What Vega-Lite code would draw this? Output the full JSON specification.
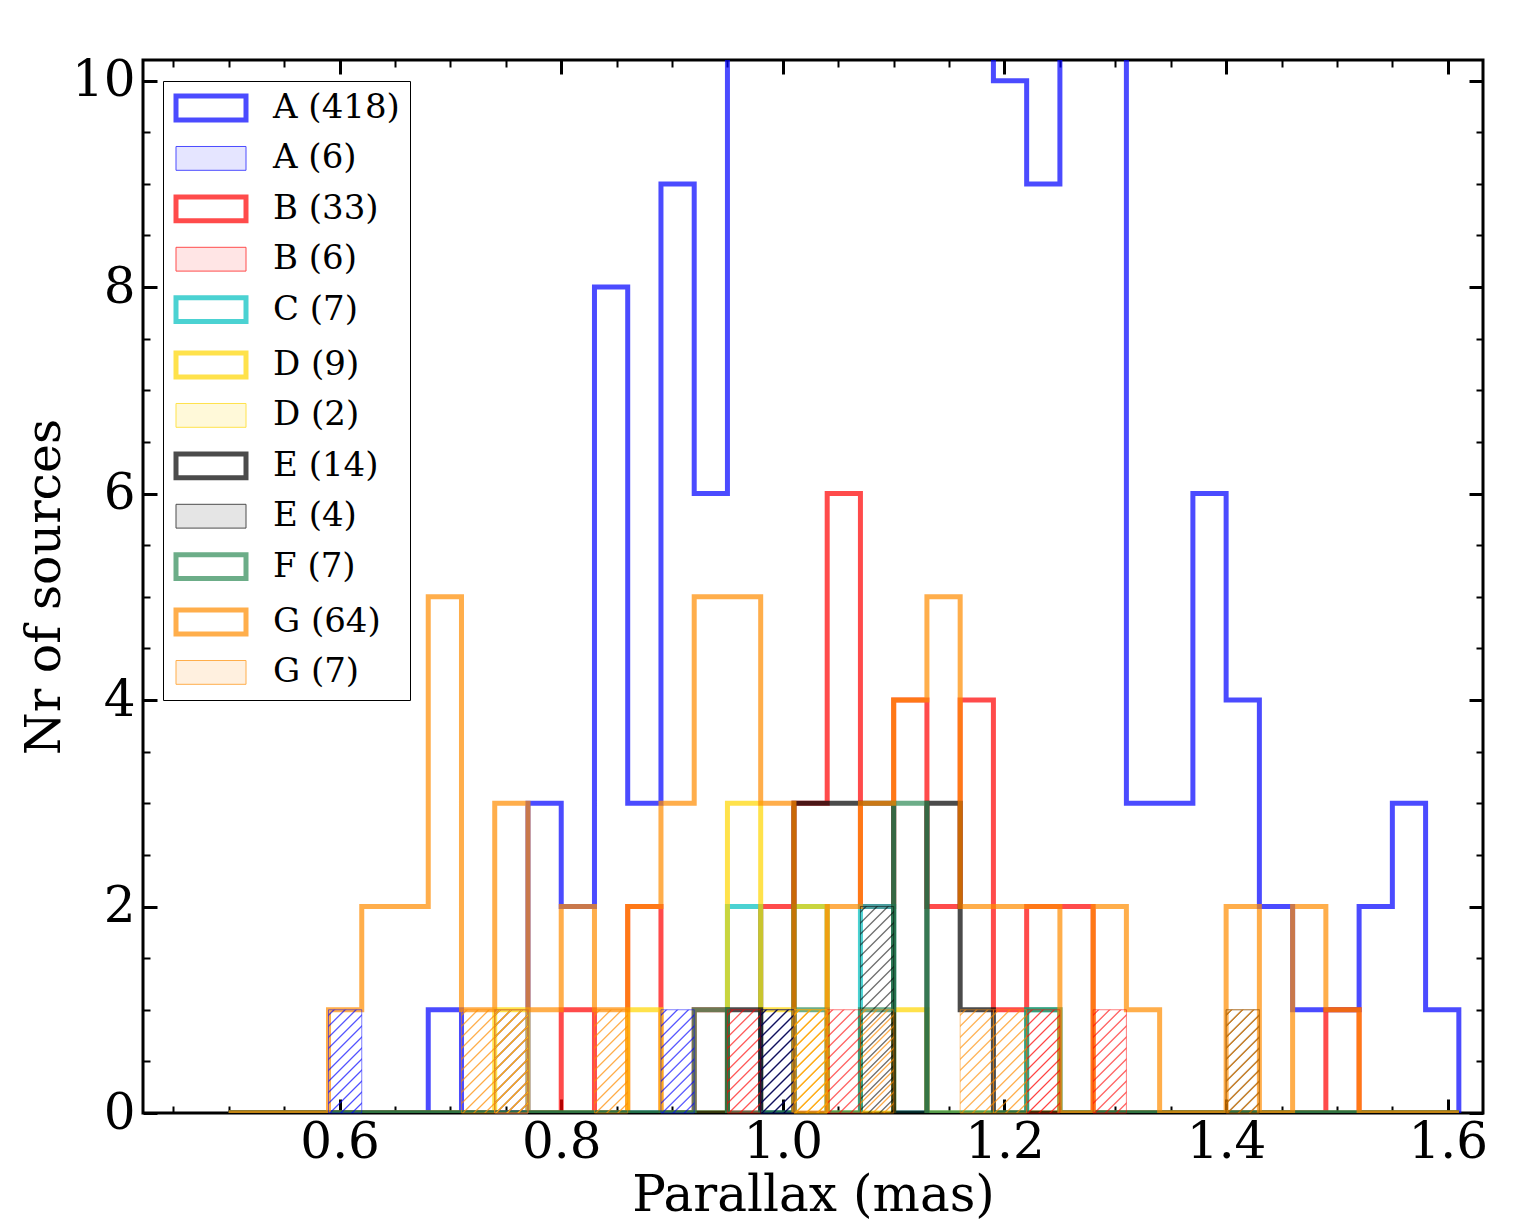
{
  "$schema": "https://vega.github.io/schema/vega-lite/v6.json",
  "width": 1340,
  "height": 1053,
  "autosize": {"type": "none"},
  "padding": {"left": 143, "top": 60, "right": 30, "bottom": 118},
  "background": "white",
  "config": {
    "view": {"stroke": "black", "strokeWidth": 3},
    "font": "DejaVu Serif",
    "axis": {"domain": false, "grid": false, "tickColor": "black", "labelColor": "black", "titleColor": "black", "labelFont": "DejaVu Serif", "titleFont": "DejaVu Serif", "titleFontWeight": "normal", "labelOverlap": false, "labelFlush": false, "labelBound": false}
  },
  "datasets": {
    "hist": [
      {"x":0.50,"A (418)":0,"B (33)":0,"C (7)":0,"D (9)":0,"E (14)":0,"F (7)":0,"G (64)":0},
      {"x":0.53,"A (418)":0,"B (33)":0,"C (7)":0,"D (9)":0,"E (14)":0,"F (7)":0,"G (64)":0},
      {"x":0.56,"A (418)":0,"B (33)":0,"C (7)":0,"D (9)":0,"E (14)":0,"F (7)":0,"G (64)":0},
      {"x":0.59,"A (418)":0,"B (33)":0,"C (7)":0,"D (9)":0,"E (14)":0,"F (7)":0,"G (64)":1},
      {"x":0.62,"A (418)":0,"B (33)":0,"C (7)":0,"D (9)":0,"E (14)":0,"F (7)":0,"G (64)":2},
      {"x":0.65,"A (418)":0,"B (33)":0,"C (7)":0,"D (9)":0,"E (14)":0,"F (7)":0,"G (64)":2},
      {"x":0.68,"A (418)":1,"B (33)":0,"C (7)":0,"D (9)":0,"E (14)":0,"F (7)":0,"G (64)":5},
      {"x":0.71,"A (418)":0,"B (33)":0,"C (7)":0,"D (9)":0,"E (14)":0,"F (7)":0,"G (64)":1},
      {"x":0.74,"A (418)":0,"B (33)":0,"C (7)":0,"D (9)":1,"E (14)":0,"F (7)":0,"G (64)":3},
      {"x":0.77,"A (418)":3,"B (33)":0,"C (7)":0,"D (9)":0,"E (14)":0,"F (7)":0,"G (64)":1},
      {"x":0.80,"A (418)":2,"B (33)":1,"C (7)":0,"D (9)":0,"E (14)":0,"F (7)":0,"G (64)":2},
      {"x":0.83,"A (418)":8,"B (33)":0,"C (7)":0,"D (9)":0,"E (14)":0,"F (7)":0,"G (64)":1},
      {"x":0.86,"A (418)":3,"B (33)":2,"C (7)":0,"D (9)":1,"E (14)":0,"F (7)":0,"G (64)":2},
      {"x":0.89,"A (418)":9,"B (33)":0,"C (7)":0,"D (9)":0,"E (14)":0,"F (7)":0,"G (64)":3},
      {"x":0.92,"A (418)":6,"B (33)":1,"C (7)":0,"D (9)":0,"E (14)":0,"F (7)":1,"G (64)":5},
      {"x":0.95,"A (418)":15,"B (33)":0,"C (7)":2,"D (9)":3,"E (14)":1,"F (7)":0,"G (64)":5},
      {"x":0.98,"A (418)":25,"B (33)":2,"C (7)":0,"D (9)":1,"E (14)":0,"F (7)":0,"G (64)":3},
      {"x":1.01,"A (418)":38,"B (33)":3,"C (7)":2,"D (9)":2,"E (14)":3,"F (7)":1,"G (64)":0},
      {"x":1.04,"A (418)":50,"B (33)":6,"C (7)":0,"D (9)":0,"E (14)":3,"F (7)":0,"G (64)":2},
      {"x":1.07,"A (418)":58,"B (33)":2,"C (7)":2,"D (9)":0,"E (14)":3,"F (7)":1,"G (64)":3},
      {"x":1.10,"A (418)":55,"B (33)":4,"C (7)":0,"D (9)":1,"E (14)":0,"F (7)":3,"G (64)":4},
      {"x":1.13,"A (418)":45,"B (33)":2,"C (7)":0,"D (9)":0,"E (14)":3,"F (7)":0,"G (64)":5},
      {"x":1.16,"A (418)":29,"B (33)":4,"C (7)":0,"D (9)":0,"E (14)":1,"F (7)":0,"G (64)":2},
      {"x":1.19,"A (418)":10,"B (33)":1,"C (7)":0,"D (9)":0,"E (14)":0,"F (7)":0,"G (64)":2},
      {"x":1.22,"A (418)":9,"B (33)":2,"C (7)":1,"D (9)":0,"E (14)":0,"F (7)":1,"G (64)":2},
      {"x":1.25,"A (418)":14,"B (33)":2,"C (7)":0,"D (9)":0,"E (14)":0,"F (7)":0,"G (64)":0},
      {"x":1.28,"A (418)":12,"B (33)":0,"C (7)":0,"D (9)":0,"E (14)":0,"F (7)":0,"G (64)":2},
      {"x":1.31,"A (418)":3,"B (33)":0,"C (7)":0,"D (9)":0,"E (14)":0,"F (7)":0,"G (64)":1},
      {"x":1.34,"A (418)":3,"B (33)":0,"C (7)":0,"D (9)":0,"E (14)":0,"F (7)":0,"G (64)":0},
      {"x":1.37,"A (418)":6,"B (33)":0,"C (7)":0,"D (9)":0,"E (14)":0,"F (7)":0,"G (64)":0},
      {"x":1.40,"A (418)":4,"B (33)":0,"C (7)":0,"D (9)":0,"E (14)":0,"F (7)":0,"G (64)":2},
      {"x":1.43,"A (418)":2,"B (33)":0,"C (7)":0,"D (9)":0,"E (14)":0,"F (7)":0,"G (64)":0},
      {"x":1.46,"A (418)":1,"B (33)":0,"C (7)":0,"D (9)":0,"E (14)":0,"F (7)":0,"G (64)":2},
      {"x":1.49,"A (418)":1,"B (33)":1,"C (7)":0,"D (9)":0,"E (14)":0,"F (7)":0,"G (64)":1},
      {"x":1.52,"A (418)":2,"B (33)":0,"C (7)":0,"D (9)":0,"E (14)":0,"F (7)":0,"G (64)":0},
      {"x":1.55,"A (418)":3,"B (33)":0,"C (7)":0,"D (9)":0,"E (14)":0,"F (7)":0,"G (64)":0},
      {"x":1.58,"A (418)":1,"B (33)":0,"C (7)":0,"D (9)":0,"E (14)":0,"F (7)":0,"G (64)":0},
      {"x":1.61,"A (418)":0,"B (33)":0,"C (7)":0,"D (9)":0,"E (14)":0,"F (7)":0,"G (64)":0}
    ],
    "hatch": [
      {"g":"A (6)","x":0.59,"x2":0.62,"n":1},
      {"g":"A (6)","x":0.74,"x2":0.77,"n":1},
      {"g":"A (6)","x":0.89,"x2":0.92,"n":1},
      {"g":"A (6)","x":0.98,"x2":1.01,"n":1},
      {"g":"B (6)","x":0.74,"x2":0.77,"n":1},
      {"g":"B (6)","x":0.95,"x2":0.98,"n":1},
      {"g":"B (6)","x":1.04,"x2":1.07,"n":1},
      {"g":"B (6)","x":1.22,"x2":1.25,"n":1},
      {"g":"B (6)","x":1.28,"x2":1.31,"n":1},
      {"g":"D (2)","x":0.74,"x2":0.77,"n":1},
      {"g":"D (2)","x":1.01,"x2":1.04,"n":1},
      {"g":"E (4)","x":0.98,"x2":1.01,"n":1},
      {"g":"E (4)","x":1.07,"x2":1.10,"n":2},
      {"g":"E (4)","x":1.40,"x2":1.43,"n":1},
      {"g":"G (7)","x":0.71,"x2":0.74,"n":1},
      {"g":"G (7)","x":0.83,"x2":0.86,"n":1},
      {"g":"G (7)","x":1.01,"x2":1.04,"n":1},
      {"g":"G (7)","x":1.07,"x2":1.10,"n":1},
      {"g":"G (7)","x":1.16,"x2":1.19,"n":1},
      {"g":"G (7)","x":1.19,"x2":1.22,"n":1},
      {"g":"G (7)","x":1.40,"x2":1.43,"n":1}
    ]
  },
  "layer": [
    {
      "data": {"name": "hist"},
      "transform": [{"fold": ["A (418)","B (33)","C (7)","D (9)","E (14)","F (7)","G (64)"], "as": ["g","n"]}],
      "mark": {"type": "line", "interpolate": "step-after", "opacity": 0.7, "clip": true, "strokeJoin": "miter", "strokeCap": "butt"},
      "encoding": {
        "x": {"field": "x", "type": "quantitative", "scale": {"domain": [0.4226, 1.6318], "nice": false, "zero": false},
          "axis": {"orient": "bottom", "values": [0.45,0.5,0.55,0.6,0.65,0.7,0.75,0.8,0.85,0.9,0.95,1.0,1.05,1.1,1.15,1.2,1.25,1.3,1.35,1.4,1.45,1.5,1.55,1.6],
            "title": "Parallax (mas)", "titleFontSize": 50, "titlePadding": -4,
            "labelFontSize": 50, "labelPadding": 18, "labelAngle": 0,
            "labelExpr": "abs(datum.value*5 - round(datum.value*5)) < 0.01 ? format(datum.value, '.1f') : ''",
            "tickSize": {"condition": {"test": "abs(datum.value*5 - round(datum.value*5)) < 0.01", "value": -14}, "value": -7},
            "tickWidth": {"condition": {"test": "abs(datum.value*5 - round(datum.value*5)) < 0.01", "value": 3}, "value": 2}}},
        "y": {"field": "n", "type": "quantitative", "scale": {"domain": [0, 10.2], "nice": false, "zero": true},
          "axis": {"orient": "left", "values": [0,0.5,1,1.5,2,2.5,3,3.5,4,4.5,5,5.5,6,6.5,7,7.5,8,8.5,9,9.5,10],
            "title": "Nr of sources", "titleFontSize": 49, "titlePadding": 2,
            "labelFontSize": 50, "labelPadding": 22,
            "labelExpr": "datum.value % 2 === 0 ? format(datum.value, 'd') : ''",
            "tickSize": {"condition": {"test": "datum.value % 2 === 0", "value": -14}, "value": -7},
            "tickWidth": {"condition": {"test": "datum.value % 2 === 0", "value": 3}, "value": 2}}},
        "strokeWidth": {"field": "g", "type": "ordinal",
          "scale": {"type": "ordinal", "domain": ["A (418)","A (6)","B (33)","B (6)","C (7)","D (9)","D (2)","E (14)","E (4)","F (7)","G (64)","G (7)"],
                    "range": [5,1,5,1,5,5,1,5,1,5,5,1]}},
        "fill": {"field": "g", "type": "nominal",
          "scale": {"domain": ["A (418)","A (6)","B (33)","B (6)","C (7)","D (9)","D (2)","E (14)","E (4)","F (7)","G (64)","G (7)"],
                    "range": ["transparent","rgba(0,0,255,0.2)","transparent","rgba(255,0,0,0.2)","transparent","transparent","rgba(255,215,0,0.3)","transparent","rgba(0,0,0,0.2)","transparent","transparent","rgba(255,140,0,0.25)"]}},
        "color": {"field": "g", "type": "nominal",
          "scale": {"domain": ["A (418)","A (6)","B (33)","B (6)","C (7)","D (9)","D (2)","E (14)","E (4)","F (7)","G (64)","G (7)"],
                    "range": ["#0000ff","#0000ff","#ff0000","#ff0000","#00bfbf","#ffd700","#ffd700","#000000","#000000","#2e8b57","#ff8c00","#ff8c00"]},
          "legend": {"orient": "none", "legendX": 20, "legendY": 21, "title": null,
            "symbolType": "M-1,-0.85H4V0.85H-1Z", "symbolSize": 784,
            "labelFont": "DejaVu Serif", "labelFontSize": 34, "labelColor": "black", "labelOffset": 66, "labelLimit": 400,
            "rowPadding": 11.4, "padding": 10, "strokeColor": "black", "fillColor": "white", "cornerRadius": 0}
        }
      }
    },
    {
      "data": {"name": "hatch"},
      "transform": [{"filter": "datum.g === 'A (6)'"}],
      "mark": {"type": "rect", "stroke": "#0000ff", "strokeWidth": 1, "strokeOpacity": 0.5,
        "fill": {"gradient":"linear","x1":0,"y1":0,"x2":0.3853,"y2":1.1978,"stops":[
          {"offset":0.028,"color":"rgba(0,0,255,0)"},{"offset":0.04,"color":"rgba(0,0,255,0.75)"},{"offset":0.052,"color":"rgba(0,0,255,0)"},
          {"offset":0.1087,"color":"rgba(0,0,255,0)"},{"offset":0.1207,"color":"rgba(0,0,255,0.75)"},{"offset":0.1327,"color":"rgba(0,0,255,0)"},
          {"offset":0.1894,"color":"rgba(0,0,255,0)"},{"offset":0.2014,"color":"rgba(0,0,255,0.75)"},{"offset":0.2134,"color":"rgba(0,0,255,0)"},
          {"offset":0.2701,"color":"rgba(0,0,255,0)"},{"offset":0.2821,"color":"rgba(0,0,255,0.75)"},{"offset":0.2941,"color":"rgba(0,0,255,0)"},
          {"offset":0.3508,"color":"rgba(0,0,255,0)"},{"offset":0.3628,"color":"rgba(0,0,255,0.75)"},{"offset":0.3748,"color":"rgba(0,0,255,0)"},
          {"offset":0.4315,"color":"rgba(0,0,255,0)"},{"offset":0.4435,"color":"rgba(0,0,255,0.75)"},{"offset":0.4555,"color":"rgba(0,0,255,0)"},
          {"offset":0.5122,"color":"rgba(0,0,255,0)"},{"offset":0.5242,"color":"rgba(0,0,255,0.75)"},{"offset":0.5362,"color":"rgba(0,0,255,0)"},
          {"offset":0.5929,"color":"rgba(0,0,255,0)"},{"offset":0.6049,"color":"rgba(0,0,255,0.75)"},{"offset":0.6169,"color":"rgba(0,0,255,0)"},
          {"offset":0.6736,"color":"rgba(0,0,255,0)"},{"offset":0.6856,"color":"rgba(0,0,255,0.75)"},{"offset":0.6976,"color":"rgba(0,0,255,0)"},
          {"offset":0.7543,"color":"rgba(0,0,255,0)"},{"offset":0.7663,"color":"rgba(0,0,255,0.75)"},{"offset":0.7783,"color":"rgba(0,0,255,0)"},
          {"offset":0.835,"color":"rgba(0,0,255,0)"},{"offset":0.847,"color":"rgba(0,0,255,0.75)"},{"offset":0.859,"color":"rgba(0,0,255,0)"},
          {"offset":0.9157,"color":"rgba(0,0,255,0)"},{"offset":0.9277,"color":"rgba(0,0,255,0.75)"},{"offset":0.9397,"color":"rgba(0,0,255,0)"}]}},
      "encoding": {
        "x": {"field": "x", "type": "quantitative",
          "axis": {"orient": "top", "values": [0.45,0.5,0.55,0.6,0.65,0.7,0.75,0.8,0.85,0.9,0.95,1.0,1.05,1.1,1.15,1.2,1.25,1.3,1.35,1.4,1.45,1.5,1.55,1.6],
            "title": null, "labels": false,
            "tickSize": {"condition": {"test": "abs(datum.value*5 - round(datum.value*5)) < 0.01", "value": -14}, "value": -7},
            "tickWidth": {"condition": {"test": "abs(datum.value*5 - round(datum.value*5)) < 0.01", "value": 3}, "value": 2}}},
        "x2": {"field": "x2"},
        "y": {"field": "n", "type": "quantitative",
          "axis": {"orient": "right", "values": [0,0.5,1,1.5,2,2.5,3,3.5,4,4.5,5,5.5,6,6.5,7,7.5,8,8.5,9,9.5,10],
            "title": null, "labels": false,
            "tickSize": {"condition": {"test": "datum.value % 2 === 0", "value": -14}, "value": -7},
            "tickWidth": {"condition": {"test": "datum.value % 2 === 0", "value": 3}, "value": 2}}},
        "y2": {"datum": 0}
      }
    },
    {
      "data": {"name": "hatch"},
      "transform": [{"filter": "datum.g === 'B (6)'"}],
      "mark": {"type": "rect", "stroke": "#ff0000", "strokeWidth": 1, "strokeOpacity": 0.5,
        "fill": {"gradient":"linear","x1":0,"y1":0,"x2":0.3853,"y2":1.1978,"stops":[
          {"offset":0.028,"color":"rgba(255,0,0,0)"},{"offset":0.04,"color":"rgba(255,0,0,0.75)"},{"offset":0.052,"color":"rgba(255,0,0,0)"},
          {"offset":0.1087,"color":"rgba(255,0,0,0)"},{"offset":0.1207,"color":"rgba(255,0,0,0.75)"},{"offset":0.1327,"color":"rgba(255,0,0,0)"},
          {"offset":0.1894,"color":"rgba(255,0,0,0)"},{"offset":0.2014,"color":"rgba(255,0,0,0.75)"},{"offset":0.2134,"color":"rgba(255,0,0,0)"},
          {"offset":0.2701,"color":"rgba(255,0,0,0)"},{"offset":0.2821,"color":"rgba(255,0,0,0.75)"},{"offset":0.2941,"color":"rgba(255,0,0,0)"},
          {"offset":0.3508,"color":"rgba(255,0,0,0)"},{"offset":0.3628,"color":"rgba(255,0,0,0.75)"},{"offset":0.3748,"color":"rgba(255,0,0,0)"},
          {"offset":0.4315,"color":"rgba(255,0,0,0)"},{"offset":0.4435,"color":"rgba(255,0,0,0.75)"},{"offset":0.4555,"color":"rgba(255,0,0,0)"},
          {"offset":0.5122,"color":"rgba(255,0,0,0)"},{"offset":0.5242,"color":"rgba(255,0,0,0.75)"},{"offset":0.5362,"color":"rgba(255,0,0,0)"},
          {"offset":0.5929,"color":"rgba(255,0,0,0)"},{"offset":0.6049,"color":"rgba(255,0,0,0.75)"},{"offset":0.6169,"color":"rgba(255,0,0,0)"},
          {"offset":0.6736,"color":"rgba(255,0,0,0)"},{"offset":0.6856,"color":"rgba(255,0,0,0.75)"},{"offset":0.6976,"color":"rgba(255,0,0,0)"},
          {"offset":0.7543,"color":"rgba(255,0,0,0)"},{"offset":0.7663,"color":"rgba(255,0,0,0.75)"},{"offset":0.7783,"color":"rgba(255,0,0,0)"},
          {"offset":0.835,"color":"rgba(255,0,0,0)"},{"offset":0.847,"color":"rgba(255,0,0,0.75)"},{"offset":0.859,"color":"rgba(255,0,0,0)"},
          {"offset":0.9157,"color":"rgba(255,0,0,0)"},{"offset":0.9277,"color":"rgba(255,0,0,0.75)"},{"offset":0.9397,"color":"rgba(255,0,0,0)"}]}},
      "encoding": {
        "x": {"field": "x", "type": "quantitative", "axis": null},
        "x2": {"field": "x2"},
        "y": {"field": "n", "type": "quantitative", "axis": null},
        "y2": {"datum": 0}
      }
    },
    {
      "data": {"name": "hatch"},
      "transform": [{"filter": "datum.g === 'D (2)'"}],
      "mark": {"type": "rect", "stroke": "#ffd700", "strokeWidth": 1, "strokeOpacity": 0.6,
        "fill": {"gradient":"linear","x1":0,"y1":0,"x2":0.3853,"y2":1.1978,"stops":[
          {"offset":0.028,"color":"rgba(255,215,0,0)"},{"offset":0.04,"color":"rgba(255,215,0,0.85)"},{"offset":0.052,"color":"rgba(255,215,0,0)"},
          {"offset":0.1087,"color":"rgba(255,215,0,0)"},{"offset":0.1207,"color":"rgba(255,215,0,0.85)"},{"offset":0.1327,"color":"rgba(255,215,0,0)"},
          {"offset":0.1894,"color":"rgba(255,215,0,0)"},{"offset":0.2014,"color":"rgba(255,215,0,0.85)"},{"offset":0.2134,"color":"rgba(255,215,0,0)"},
          {"offset":0.2701,"color":"rgba(255,215,0,0)"},{"offset":0.2821,"color":"rgba(255,215,0,0.85)"},{"offset":0.2941,"color":"rgba(255,215,0,0)"},
          {"offset":0.3508,"color":"rgba(255,215,0,0)"},{"offset":0.3628,"color":"rgba(255,215,0,0.85)"},{"offset":0.3748,"color":"rgba(255,215,0,0)"},
          {"offset":0.4315,"color":"rgba(255,215,0,0)"},{"offset":0.4435,"color":"rgba(255,215,0,0.85)"},{"offset":0.4555,"color":"rgba(255,215,0,0)"},
          {"offset":0.5122,"color":"rgba(255,215,0,0)"},{"offset":0.5242,"color":"rgba(255,215,0,0.85)"},{"offset":0.5362,"color":"rgba(255,215,0,0)"},
          {"offset":0.5929,"color":"rgba(255,215,0,0)"},{"offset":0.6049,"color":"rgba(255,215,0,0.85)"},{"offset":0.6169,"color":"rgba(255,215,0,0)"},
          {"offset":0.6736,"color":"rgba(255,215,0,0)"},{"offset":0.6856,"color":"rgba(255,215,0,0.85)"},{"offset":0.6976,"color":"rgba(255,215,0,0)"},
          {"offset":0.7543,"color":"rgba(255,215,0,0)"},{"offset":0.7663,"color":"rgba(255,215,0,0.85)"},{"offset":0.7783,"color":"rgba(255,215,0,0)"},
          {"offset":0.835,"color":"rgba(255,215,0,0)"},{"offset":0.847,"color":"rgba(255,215,0,0.85)"},{"offset":0.859,"color":"rgba(255,215,0,0)"},
          {"offset":0.9157,"color":"rgba(255,215,0,0)"},{"offset":0.9277,"color":"rgba(255,215,0,0.85)"},{"offset":0.9397,"color":"rgba(255,215,0,0)"}]}},
      "encoding": {
        "x": {"field": "x", "type": "quantitative", "axis": null},
        "x2": {"field": "x2"},
        "y": {"field": "n", "type": "quantitative", "axis": null},
        "y2": {"datum": 0}
      }
    },
    {
      "data": {"name": "hatch"},
      "transform": [{"filter": "datum.g === 'E (4)' && datum.n === 1"}],
      "mark": {"type": "rect", "stroke": "#000000", "strokeWidth": 1, "strokeOpacity": 0.5,
        "fill": {"gradient":"linear","x1":0,"y1":0,"x2":0.3853,"y2":1.1978,"stops":[
          {"offset":0.028,"color":"rgba(0,0,0,0)"},{"offset":0.04,"color":"rgba(0,0,0,0.7)"},{"offset":0.052,"color":"rgba(0,0,0,0)"},
          {"offset":0.1087,"color":"rgba(0,0,0,0)"},{"offset":0.1207,"color":"rgba(0,0,0,0.7)"},{"offset":0.1327,"color":"rgba(0,0,0,0)"},
          {"offset":0.1894,"color":"rgba(0,0,0,0)"},{"offset":0.2014,"color":"rgba(0,0,0,0.7)"},{"offset":0.2134,"color":"rgba(0,0,0,0)"},
          {"offset":0.2701,"color":"rgba(0,0,0,0)"},{"offset":0.2821,"color":"rgba(0,0,0,0.7)"},{"offset":0.2941,"color":"rgba(0,0,0,0)"},
          {"offset":0.3508,"color":"rgba(0,0,0,0)"},{"offset":0.3628,"color":"rgba(0,0,0,0.7)"},{"offset":0.3748,"color":"rgba(0,0,0,0)"},
          {"offset":0.4315,"color":"rgba(0,0,0,0)"},{"offset":0.4435,"color":"rgba(0,0,0,0.7)"},{"offset":0.4555,"color":"rgba(0,0,0,0)"},
          {"offset":0.5122,"color":"rgba(0,0,0,0)"},{"offset":0.5242,"color":"rgba(0,0,0,0.7)"},{"offset":0.5362,"color":"rgba(0,0,0,0)"},
          {"offset":0.5929,"color":"rgba(0,0,0,0)"},{"offset":0.6049,"color":"rgba(0,0,0,0.7)"},{"offset":0.6169,"color":"rgba(0,0,0,0)"},
          {"offset":0.6736,"color":"rgba(0,0,0,0)"},{"offset":0.6856,"color":"rgba(0,0,0,0.7)"},{"offset":0.6976,"color":"rgba(0,0,0,0)"},
          {"offset":0.7543,"color":"rgba(0,0,0,0)"},{"offset":0.7663,"color":"rgba(0,0,0,0.7)"},{"offset":0.7783,"color":"rgba(0,0,0,0)"},
          {"offset":0.835,"color":"rgba(0,0,0,0)"},{"offset":0.847,"color":"rgba(0,0,0,0.7)"},{"offset":0.859,"color":"rgba(0,0,0,0)"},
          {"offset":0.9157,"color":"rgba(0,0,0,0)"},{"offset":0.9277,"color":"rgba(0,0,0,0.7)"},{"offset":0.9397,"color":"rgba(0,0,0,0)"}]}},
      "encoding": {
        "x": {"field": "x", "type": "quantitative", "axis": null},
        "x2": {"field": "x2"},
        "y": {"field": "n", "type": "quantitative", "axis": null},
        "y2": {"datum": 0}
      }
    },
    {
      "data": {"name": "hatch"},
      "transform": [{"filter": "datum.g === 'E (4)' && datum.n === 2"}],
      "mark": {"type": "rect", "stroke": "#000000", "strokeWidth": 1, "strokeOpacity": 0.5,
        "fill": {"gradient":"linear","x1":0,"y1":0,"x2":0.182,"y2":1.1316,"stops":[
          {"offset":0.0162,"color":"rgba(0,0,0,0)"},{"offset":0.023,"color":"rgba(0,0,0,0.7)"},{"offset":0.0298,"color":"rgba(0,0,0,0)"},
          {"offset":0.0621,"color":"rgba(0,0,0,0)"},{"offset":0.0689,"color":"rgba(0,0,0,0.7)"},{"offset":0.0757,"color":"rgba(0,0,0,0)"},
          {"offset":0.108,"color":"rgba(0,0,0,0)"},{"offset":0.1148,"color":"rgba(0,0,0,0.7)"},{"offset":0.1216,"color":"rgba(0,0,0,0)"},
          {"offset":0.1539,"color":"rgba(0,0,0,0)"},{"offset":0.1607,"color":"rgba(0,0,0,0.7)"},{"offset":0.1675,"color":"rgba(0,0,0,0)"},
          {"offset":0.1998,"color":"rgba(0,0,0,0)"},{"offset":0.2066,"color":"rgba(0,0,0,0.7)"},{"offset":0.2134,"color":"rgba(0,0,0,0)"},
          {"offset":0.2457,"color":"rgba(0,0,0,0)"},{"offset":0.2525,"color":"rgba(0,0,0,0.7)"},{"offset":0.2593,"color":"rgba(0,0,0,0)"},
          {"offset":0.2916,"color":"rgba(0,0,0,0)"},{"offset":0.2984,"color":"rgba(0,0,0,0.7)"},{"offset":0.3052,"color":"rgba(0,0,0,0)"},
          {"offset":0.3375,"color":"rgba(0,0,0,0)"},{"offset":0.3443,"color":"rgba(0,0,0,0.7)"},{"offset":0.3511,"color":"rgba(0,0,0,0)"},
          {"offset":0.3834,"color":"rgba(0,0,0,0)"},{"offset":0.3902,"color":"rgba(0,0,0,0.7)"},{"offset":0.397,"color":"rgba(0,0,0,0)"},
          {"offset":0.4293,"color":"rgba(0,0,0,0)"},{"offset":0.4361,"color":"rgba(0,0,0,0.7)"},{"offset":0.4429,"color":"rgba(0,0,0,0)"},
          {"offset":0.4752,"color":"rgba(0,0,0,0)"},{"offset":0.482,"color":"rgba(0,0,0,0.7)"},{"offset":0.4888,"color":"rgba(0,0,0,0)"},
          {"offset":0.5211,"color":"rgba(0,0,0,0)"},{"offset":0.5279,"color":"rgba(0,0,0,0.7)"},{"offset":0.5347,"color":"rgba(0,0,0,0)"},
          {"offset":0.567,"color":"rgba(0,0,0,0)"},{"offset":0.5738,"color":"rgba(0,0,0,0.7)"},{"offset":0.5806,"color":"rgba(0,0,0,0)"},
          {"offset":0.6129,"color":"rgba(0,0,0,0)"},{"offset":0.6197,"color":"rgba(0,0,0,0.7)"},{"offset":0.6265,"color":"rgba(0,0,0,0)"},
          {"offset":0.6588,"color":"rgba(0,0,0,0)"},{"offset":0.6656,"color":"rgba(0,0,0,0.7)"},{"offset":0.6724,"color":"rgba(0,0,0,0)"},
          {"offset":0.7047,"color":"rgba(0,0,0,0)"},{"offset":0.7115,"color":"rgba(0,0,0,0.7)"},{"offset":0.7183,"color":"rgba(0,0,0,0)"},
          {"offset":0.7506,"color":"rgba(0,0,0,0)"},{"offset":0.7574,"color":"rgba(0,0,0,0.7)"},{"offset":0.7642,"color":"rgba(0,0,0,0)"},
          {"offset":0.7965,"color":"rgba(0,0,0,0)"},{"offset":0.8033,"color":"rgba(0,0,0,0.7)"},{"offset":0.8101,"color":"rgba(0,0,0,0)"},
          {"offset":0.8424,"color":"rgba(0,0,0,0)"},{"offset":0.8492,"color":"rgba(0,0,0,0.7)"},{"offset":0.856,"color":"rgba(0,0,0,0)"},
          {"offset":0.8883,"color":"rgba(0,0,0,0)"},{"offset":0.8951,"color":"rgba(0,0,0,0.7)"},{"offset":0.9019,"color":"rgba(0,0,0,0)"},
          {"offset":0.9342,"color":"rgba(0,0,0,0)"},{"offset":0.941,"color":"rgba(0,0,0,0.7)"},{"offset":0.9478,"color":"rgba(0,0,0,0)"},
          {"offset":0.9801,"color":"rgba(0,0,0,0)"},{"offset":0.9869,"color":"rgba(0,0,0,0.7)"},{"offset":0.9937,"color":"rgba(0,0,0,0)"}]}},
      "encoding": {
        "x": {"field": "x", "type": "quantitative", "axis": null},
        "x2": {"field": "x2"},
        "y": {"field": "n", "type": "quantitative", "axis": null},
        "y2": {"datum": 0}
      }
    },
    {
      "data": {"name": "hatch"},
      "transform": [{"filter": "datum.g === 'G (7)'"}],
      "mark": {"type": "rect", "stroke": "#ff8c00", "strokeWidth": 1, "strokeOpacity": 0.5,
        "fill": {"gradient":"linear","x1":0,"y1":0,"x2":0.3853,"y2":1.1978,"stops":[
          {"offset":0.028,"color":"rgba(255,140,0,0)"},{"offset":0.04,"color":"rgba(255,140,0,0.8)"},{"offset":0.052,"color":"rgba(255,140,0,0)"},
          {"offset":0.1087,"color":"rgba(255,140,0,0)"},{"offset":0.1207,"color":"rgba(255,140,0,0.8)"},{"offset":0.1327,"color":"rgba(255,140,0,0)"},
          {"offset":0.1894,"color":"rgba(255,140,0,0)"},{"offset":0.2014,"color":"rgba(255,140,0,0.8)"},{"offset":0.2134,"color":"rgba(255,140,0,0)"},
          {"offset":0.2701,"color":"rgba(255,140,0,0)"},{"offset":0.2821,"color":"rgba(255,140,0,0.8)"},{"offset":0.2941,"color":"rgba(255,140,0,0)"},
          {"offset":0.3508,"color":"rgba(255,140,0,0)"},{"offset":0.3628,"color":"rgba(255,140,0,0.8)"},{"offset":0.3748,"color":"rgba(255,140,0,0)"},
          {"offset":0.4315,"color":"rgba(255,140,0,0)"},{"offset":0.4435,"color":"rgba(255,140,0,0.8)"},{"offset":0.4555,"color":"rgba(255,140,0,0)"},
          {"offset":0.5122,"color":"rgba(255,140,0,0)"},{"offset":0.5242,"color":"rgba(255,140,0,0.8)"},{"offset":0.5362,"color":"rgba(255,140,0,0)"},
          {"offset":0.5929,"color":"rgba(255,140,0,0)"},{"offset":0.6049,"color":"rgba(255,140,0,0.8)"},{"offset":0.6169,"color":"rgba(255,140,0,0)"},
          {"offset":0.6736,"color":"rgba(255,140,0,0)"},{"offset":0.6856,"color":"rgba(255,140,0,0.8)"},{"offset":0.6976,"color":"rgba(255,140,0,0)"},
          {"offset":0.7543,"color":"rgba(255,140,0,0)"},{"offset":0.7663,"color":"rgba(255,140,0,0.8)"},{"offset":0.7783,"color":"rgba(255,140,0,0)"},
          {"offset":0.835,"color":"rgba(255,140,0,0)"},{"offset":0.847,"color":"rgba(255,140,0,0.8)"},{"offset":0.859,"color":"rgba(255,140,0,0)"},
          {"offset":0.9157,"color":"rgba(255,140,0,0)"},{"offset":0.9277,"color":"rgba(255,140,0,0.8)"},{"offset":0.9397,"color":"rgba(255,140,0,0)"}]}},
      "encoding": {
        "x": {"field": "x", "type": "quantitative", "axis": null},
        "x2": {"field": "x2"},
        "y": {"field": "n", "type": "quantitative", "axis": null},
        "y2": {"datum": 0}
      }
    }
  ],
  "resolve": {"axis": {"x": "independent", "y": "independent"}}
}
